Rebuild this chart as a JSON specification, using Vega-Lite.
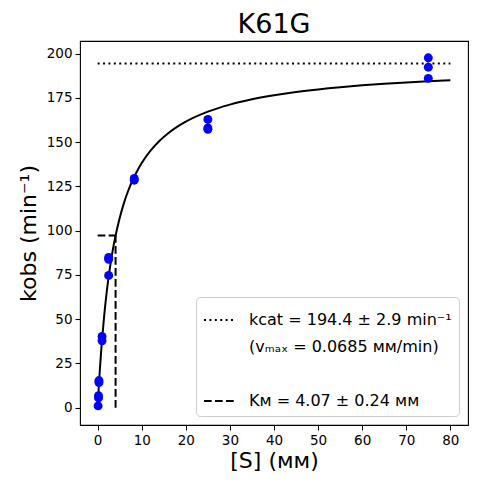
{
  "$schema": "https://vega.github.io/schema/vega-lite/v6.json",
  "description": "K61G Michaelis-Menten fit",
  "autosize": {"type": "none"},
  "padding": {"left": 80, "top": 41, "right": 9, "bottom": 59},
  "width": 388,
  "height": 384,
  "title": {
    "text": "K61G",
    "fontSize": 27,
    "font": "DejaVu Sans",
    "fontWeight": "normal",
    "offset": 2,
    "anchor": "middle",
    "color": "black"
  },
  "datasets": {
    "points": [
      {"s": 0.1, "k": 1.0},
      {"s": 0.2, "k": 5.5},
      {"s": 0.2, "k": 6.8},
      {"s": 0.3, "k": 14.2},
      {"s": 0.3, "k": 15.3},
      {"s": 1.0, "k": 37.8},
      {"s": 1.0, "k": 40.2},
      {"s": 2.5, "k": 74.7},
      {"s": 2.5, "k": 83.8},
      {"s": 2.5, "k": 84.8},
      {"s": 8.3, "k": 128.5},
      {"s": 8.3, "k": 129.5},
      {"s": 25, "k": 157.2},
      {"s": 25, "k": 158.0},
      {"s": 25, "k": 162.8},
      {"s": 75, "k": 186.0},
      {"s": 75, "k": 192.3},
      {"s": 75, "k": 197.6}
    ],
    "fit": [
      {"s": 0, "k": 0},
      {"s": 0.25, "k": 11.25},
      {"s": 0.5, "k": 21.27},
      {"s": 0.75, "k": 30.25},
      {"s": 1, "k": 38.34},
      {"s": 1.5, "k": 52.35},
      {"s": 2, "k": 64.05},
      {"s": 2.5, "k": 73.97},
      {"s": 3, "k": 82.49},
      {"s": 3.5, "k": 89.88},
      {"s": 4, "k": 96.36},
      {"s": 5, "k": 107.17},
      {"s": 6, "k": 115.83},
      {"s": 7, "k": 122.93},
      {"s": 8, "k": 128.85},
      {"s": 9, "k": 133.86},
      {"s": 10, "k": 138.17},
      {"s": 12, "k": 145.16},
      {"s": 14, "k": 150.61},
      {"s": 16, "k": 154.98},
      {"s": 18, "k": 158.55},
      {"s": 20, "k": 161.53},
      {"s": 25, "k": 167.18},
      {"s": 30, "k": 171.18},
      {"s": 35, "k": 174.15},
      {"s": 40, "k": 176.45},
      {"s": 45, "k": 178.28},
      {"s": 50, "k": 179.77},
      {"s": 55, "k": 181.01},
      {"s": 60, "k": 182.05},
      {"s": 65, "k": 182.95},
      {"s": 70, "k": 183.72},
      {"s": 75, "k": 184.39},
      {"s": 80, "k": 184.99}
    ],
    "guides": [
      {"series": "kcat", "s": 0, "s2": 80, "k": 194.4, "k2": 194.4},
      {"series": "KM", "s": 0, "s2": 4.07, "k": 97.2, "k2": 97.2},
      {"series": "KM", "s": 4.07, "s2": 4.07, "k": 0, "k2": 97.2}
    ]
  },
  "layer": [
    {
      "data": {"name": "guides"},
      "mark": {"type": "rule", "strokeWidth": 2},
      "encoding": {
        "x": {"field": "s", "type": "quantitative"},
        "x2": {"field": "s2"},
        "y": {"field": "k", "type": "quantitative"},
        "y2": {"field": "k2"},
        "color": {
          "field": "series",
          "type": "nominal",
          "scale": {
            "domain": ["kcat", "vmax", "blank", "KM"],
            "range": ["black", "transparent", "transparent", "black"]
          },
          "legend": {
            "title": null,
            "orient": "bottom-right",
            "offset": 9,
            "padding": 7,
            "strokeColor": "#cccccc",
            "fillColor": "white",
            "cornerRadius": 4,
            "symbolType": "stroke",
            "symbolSize": 900,
            "symbolStrokeWidth": 2,
            "labelFont": "DejaVu Sans",
            "labelFontSize": 16,
            "labelColor": "black",
            "labelOffset": 14,
            "labelLimit": 400,
            "rowPadding": 3,
            "labelExpr": "datum.value == 'kcat' ? 'kcat = 194.4 ± 2.9 min⁻¹' : datum.value == 'vmax' ? '(vₘₐₓ = 0.0685 ᴍᴍ/min)' : datum.value == 'KM' ? 'Kᴍ = 4.07 ± 0.24 ᴍᴍ' : ''"
          }
        },
        "strokeDash": {
          "field": "series",
          "type": "nominal",
          "scale": {
            "domain": ["kcat", "vmax", "blank", "KM"],
            "range": [[2, 3.4], [1, 0], [1, 0], [7.7, 3.3]]
          }
        }
      }
    },
    {
      "data": {"name": "fit"},
      "mark": {"type": "line", "color": "black", "strokeWidth": 2, "interpolate": "monotone"},
      "encoding": {
        "x": {"field": "s", "type": "quantitative"},
        "y": {"field": "k", "type": "quantitative"}
      }
    },
    {
      "data": {"name": "points"},
      "mark": {"type": "circle", "color": "blue", "opacity": 1, "size": 80},
      "encoding": {
        "x": {
          "field": "s",
          "type": "quantitative",
          "scale": {"domain": [-4, 84], "nice": false, "zero": false},
          "axis": {
            "title": "[S] (ᴍᴍ)",
            "values": [0, 10, 20, 30, 40, 50, 60, 70, 80]
          }
        },
        "y": {
          "field": "k",
          "type": "quantitative",
          "scale": {"domain": [-9.8, 207.1], "nice": false, "zero": false},
          "axis": {
            "title": "kobs (min⁻¹)",
            "values": [0, 25, 50, 75, 100, 125, 150, 175, 200]
          }
        }
      }
    }
  ],
  "config": {
    "font": "DejaVu Sans",
    "view": {"stroke": "black", "strokeWidth": 1.1},
    "axis": {
      "grid": false,
      "domain": false,
      "ticks": true,
      "tickColor": "black",
      "tickWidth": 1.1,
      "tickSize": 5,
      "labelFont": "DejaVu Sans",
      "labelFontSize": 13.5,
      "labelColor": "black",
      "labelPadding": 3,
      "titleFont": "DejaVu Sans",
      "titleFontSize": 22,
      "titleFontWeight": "normal",
      "titleColor": "black"
    },
    "axisX": {"titlePadding": 4, "labelFlush": false},
    "axisY": {"titlePadding": 6, "labelFlush": false}
  }
}
